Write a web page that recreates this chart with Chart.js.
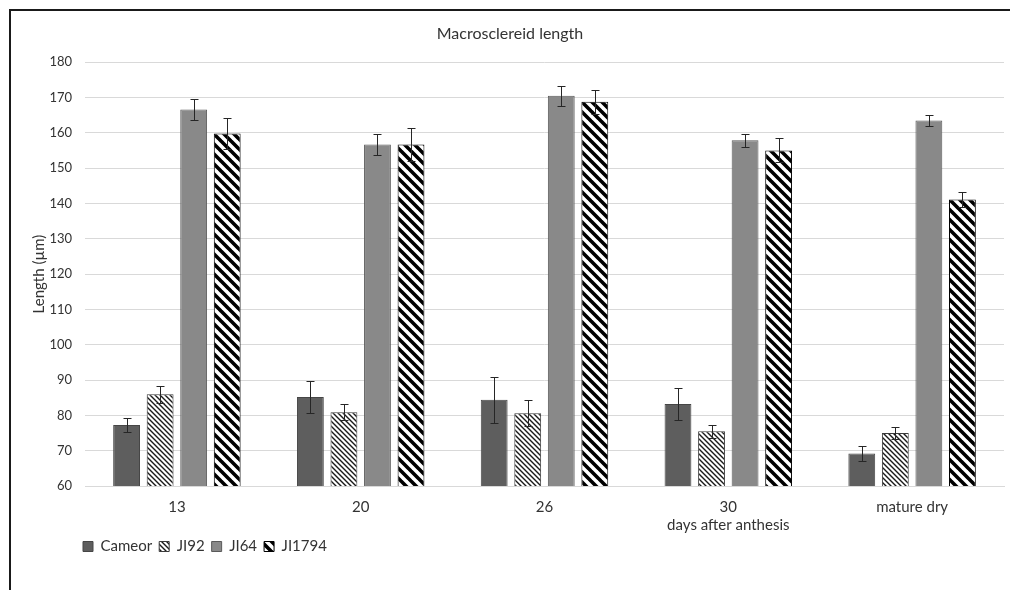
<!DOCTYPE html>
<html><head><meta charset="utf-8">
<script src="https://cdn.jsdelivr.net/npm/chart.js@4.4.1/dist/chart.umd.min.js"></script>
<style>html,body{margin:0;padding:0;background:#fff}#wrap{position:relative;width:1010px;height:590px}</style>
</head><body><div id="wrap"><canvas id="c" width="1010" height="590"></canvas></div>
<script>
const categories = ['13', '20', '26', ['30', 'days after anthesis'], 'mature dry'];
const seriesNames = ['Cameor', 'JI92', 'JI64', 'JI1794'];
const cameor = [77.3, 85.2, 84.4, 83.2, 69.2];
const cameorErr = [2.0, 4.5, 6.5, 4.5, 2.2];
const ji92 = [86.0, 80.9, 80.6, 75.5, 75.0];
const ji92Err = [2.4, 2.3, 3.7, 1.8, 1.7];
const ji64 = [166.6, 156.7, 170.5, 157.9, 163.5];
const ji64Err = [3.0, 2.9, 2.9, 1.9, 1.5];
const ji1794 = [159.8, 156.7, 168.8, 155.0, 141.1];
const ji1794Err = [4.4, 4.7, 3.4, 3.4, 2.1];
const yMin = 60, yMax = 180, yStep = 10;

const F = 'Lato';
const TXT = '#333333';

function stripePattern(size, width, fg, bg) {
  const c = document.createElement('canvas');
  c.width = size; c.height = size;
  const g = c.getContext('2d');
  g.fillStyle = bg; g.fillRect(0, 0, size, size);
  g.strokeStyle = fg; g.lineWidth = width;
  g.beginPath();
  for (let k = -1; k <= 1; k++) {
    g.moveTo(k * size - 1, -1);
    g.lineTo(k * size + size + 1, size + 1);
  }
  g.stroke();
  return g.createPattern(c, 'repeat');
}
const thinPat = stripePattern(5, 1.4, '#1a1a1a', '#ffffff');
const widePat = stripePattern(10, 3.6, '#000000', '#ffffff');

const errPlugin = {
  id: 'errbars',
  afterDatasetsDraw(chart) {
    const ctx = chart.ctx, y = chart.scales.y;
    chart.data.datasets.forEach((ds, i) => {
      const meta = chart.getDatasetMeta(i);
      meta.data.forEach((bar, j) => {
        const v = ds.data[j], e = ds.errors[j];
        const x = Math.round(bar.x) + 0.5;
        const yt = Math.round(y.getPixelForValue(v + e)) + 0.5;
        const yb = Math.round(y.getPixelForValue(v - e)) + 0.5;
        ctx.save();
        ctx.strokeStyle = '#262626'; ctx.lineWidth = 1;
        ctx.beginPath();
        ctx.moveTo(x, yt); ctx.lineTo(x, yb);
        ctx.moveTo(x - 4, yt); ctx.lineTo(x + 4, yt);
        ctx.moveTo(x - 4, yb); ctx.lineTo(x + 4, yb);
        ctx.stroke();
        ctx.restore();
      });
    });
  }
};

const framePlugin = {
  id: 'frame',
  beforeDraw(chart) {
    const ctx = chart.ctx;
    ctx.save(); ctx.fillStyle = '#fff'; ctx.fillRect(0, 0, chart.width, chart.height); ctx.restore();
  },
  afterLayout(chart) {
    const lg = chart.legend;
    if (lg) { lg.left += 48; lg.right += 48; lg.top -= 3; lg.bottom -= 3; }
    const tb = chart.titleBlock;
    if (tb) { tb.left -= 6; tb.right -= 6; }
  },
  afterDraw(chart) {
    const ctx = chart.ctx;
    ctx.save();
    ctx.strokeStyle = '#1a1a1a'; ctx.lineWidth = 2;
    ctx.beginPath();
    ctx.moveTo(9, 10); ctx.lineTo(1010, 10);
    ctx.moveTo(10, 9); ctx.lineTo(10, 590);
    ctx.stroke();
    ctx.restore();
  }
};

new Chart(document.getElementById('c'), {
  type: 'bar',
  data: {
    labels: categories,
    datasets: [
      { label: seriesNames[0], data: cameor, errors: cameorErr, backgroundColor: '#5e5e5e', borderColor: '#464646', borderWidth: 1 },
      { label: seriesNames[1], data: ji92, errors: ji92Err, backgroundColor: thinPat, borderColor: '#3a3a3a', borderWidth: 1 },
      { label: seriesNames[2], data: ji64, errors: ji64Err, backgroundColor: '#898989', borderColor: '#5a5a5a', borderWidth: 1 },
      { label: seriesNames[3], data: ji1794, errors: ji1794Err, backgroundColor: widePat, borderColor: '#000000', borderWidth: 1 }
    ]
  },
  options: {
    responsive: false, animation: false, devicePixelRatio: 1,
    categoryPercentage: 0.73, barPercentage: 0.8,
    layout: { padding: { left: 28, right: 6, top: 20, bottom: 23 } },
    plugins: {
      title: { display: true, text: 'Macrosclereid length', color: TXT, font: { family: F, size: 16, weight: 'normal' }, padding: { top: 4, bottom: 19 } },
      legend: { position: 'bottom', align: 'start', labels: { boxWidth: 10, boxHeight: 10, padding: 7, color: TXT, font: { family: F, size: 15 } } },
      tooltip: { enabled: false }
    },
    scales: {
      x: {
        grid: { display: false, drawTicks: false },
        border: { color: '#d9d9d9' },
        ticks: { padding: 13, color: TXT, font: { family: F, size: 15, lineHeight: 1.15 }, maxRotation: 0, autoSkip: false },
        afterFit(s) { s.height = 49; }
      },
      y: {
        min: yMin, max: yMax,
        ticks: { stepSize: yStep, padding: 13, color: TXT, font: { family: F, size: 13 } },
        grid: { color: '#d9d9d9', drawTicks: false },
        border: { display: false },
        title: { display: true, text: 'Length (µm)', color: TXT, font: { family: F, size: 15 }, padding: { top: 2, bottom: 4 } },
        afterFit(s) { s.width = 57; }
      }
    }
  },
  plugins: [errPlugin, framePlugin]
});
</script></body></html>
